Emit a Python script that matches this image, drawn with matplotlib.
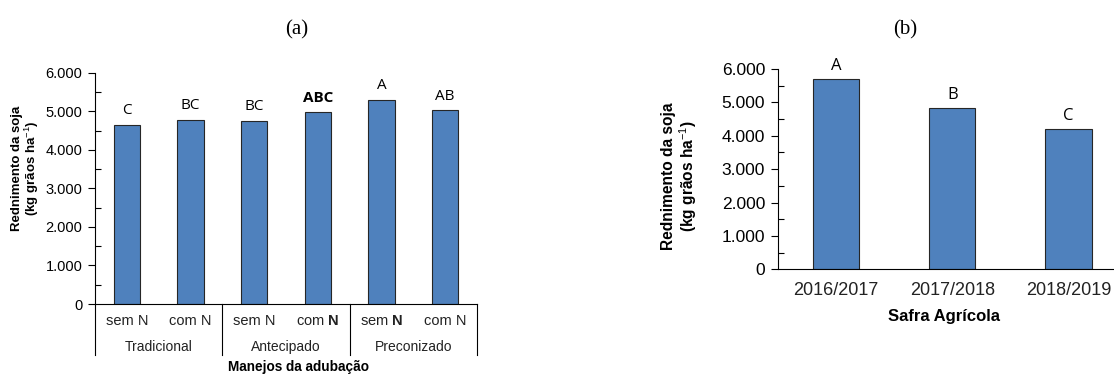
import matplotlib.pyplot as plt
from matplotlib.ticker import MultipleLocator, FuncFormatter

plt.rcParams["font.family"] = ["Liberation Sans", "DejaVu Sans"]
plt.rcParams["mathtext.fontset"] = "custom"
plt.rcParams["mathtext.rm"] = "Liberation Sans"
plt.rcParams["mathtext.bf"] = "Liberation Sans:bold"

# --- dados (a): manejos da adubação ---
tratamentos = ["sem N", "com N", "sem N", "com $\\mathbf{N}$", "sem $\\mathbf{N}$", "com N"]
manejos = ["Tradicional", "Antecipado", "Preconizado"]
rend_a = [4640, 4780, 4750, 4980, 5290, 5020]
letras_a = ["C", "BC", "BC", "ABC", "A", "AB"]
negrito_a = [False, False, False, True, False, False]

# --- dados (b): safras ---
safras = ["2016/2017", "2017/2018", "2018/2019"]
rend_b = [5700, 4820, 4190]
letras_b = ["A", "B", "C"]

cor = "#4F81BD"
borda = "#262626"
W, H = 1114, 374

fig = plt.figure(figsize=(W / 100, H / 100), dpi=100)

# formato com ponto de milhar
fmt = FuncFormatter(lambda v, p: f"{int(v):,}".replace(",", "."))


def eixo_y(ax, fs):
    ax.set_ylim(0, 6000)
    ax.yaxis.set_major_locator(MultipleLocator(1000))
    ax.yaxis.set_minor_locator(MultipleLocator(500))
    ax.yaxis.set_major_formatter(fmt)
    ax.tick_params(axis="y", which="major", direction="out", length=5,
                   width=0.8, labelsize=fs, pad=4)
    ax.tick_params(axis="y", which="minor", direction="in", length=4, width=0.8)
    for s in ["top", "right"]:
        ax.spines[s].set_visible(False)
    ax.spines["left"].set_linewidth(0.8)
    ax.spines["bottom"].set_linewidth(0.8)


# --- Gráfico (a) ---
ax1 = fig.add_axes([95 / W, 1 - 304 / H, 382 / W, 231.3 / H])
x1 = range(len(rend_a))
ax1.bar(x1, rend_a, width=0.41, color=cor, edgecolor=borda, linewidth=0.8)
ax1.set_xlim(-0.5, len(rend_a) - 0.5)
eixo_y(ax1, 10.5)
ax1.set_xticks(list(x1))
ax1.set_xticklabels(tratamentos, fontsize=10.5, color="#222222")
ax1.tick_params(axis="x", length=0, pad=7)

for xi, v, l, b in zip(x1, rend_a, letras_a, negrito_a):
    ax1.text(xi, v + 180, l, ha="center", va="bottom", fontsize=11,
             family="Open Sans", fontweight="bold" if b else "normal")

# linhas separando os grupos
baixo = -(355 - 304) / 231.3
for xs in [-0.5, 1.5, 3.5, 5.5]:
    ax1.plot([xs, xs], [0, baixo], color="black", lw=0.8,
             transform=ax1.get_xaxis_transform(), clip_on=False)
for i, m in enumerate(manejos):
    ax1.text(2 * i + 0.5, -(347 - 304) / 231.3, m, ha="center", va="center",
             fontsize=10, color="#222222", transform=ax1.get_xaxis_transform())

fig.text(297 / W, 1 - 30 / H, "(a)", ha="center", va="center", fontsize=15,
         family="Liberation Serif")
fig.text(26 / W, 1 - 168 / H, "Rednimento da soja\n(kg grãos ha$^{-1}$)",
         rotation=90, ha="center", va="center", fontsize=9.5, fontweight="bold",
         linespacing=1.05)
fig.text(299 / W, 1 - 367 / H, "Manejos da adubação", ha="center", va="center",
         fontsize=9.8, fontweight="bold")

# --- Gráfico (b) ---
ax2 = fig.add_axes([777.7 / W, 1 - 269.3 / H, 349 / W, 200.3 / H])
x2 = range(len(rend_b))
ax2.bar(x2, rend_b, width=0.4, color=cor, edgecolor=borda, linewidth=0.8)
ax2.set_xlim(-0.5, len(rend_b) - 0.5)
eixo_y(ax2, 12.5)
ax2.set_xticks(list(x2))
ax2.set_xticklabels(safras, fontsize=13, color="#222222")
ax2.tick_params(axis="x", length=0, pad=9)

for xi, v, l in zip(x2, rend_b, letras_b):
    ax2.text(xi, v + 150, l, ha="center", va="bottom", fontsize=12,
             family="Open Sans")

fig.text(905 / W, 1 - 30 / H, "(b)", ha="center", va="center", fontsize=15,
         family="Liberation Serif")
fig.text(680 / W, 1 - 176 / H, "Rednimento da soja\n(kg grãos ha$^{-1}$)",
         rotation=90, ha="center", va="center", fontsize=11.2, fontweight="bold",
         linespacing=1.05)
fig.text(944 / W, 1 - 316 / H, "Safra Agrícola", ha="center", va="center",
         fontsize=12, fontweight="bold")

fig.savefig("out.png", dpi=100)
